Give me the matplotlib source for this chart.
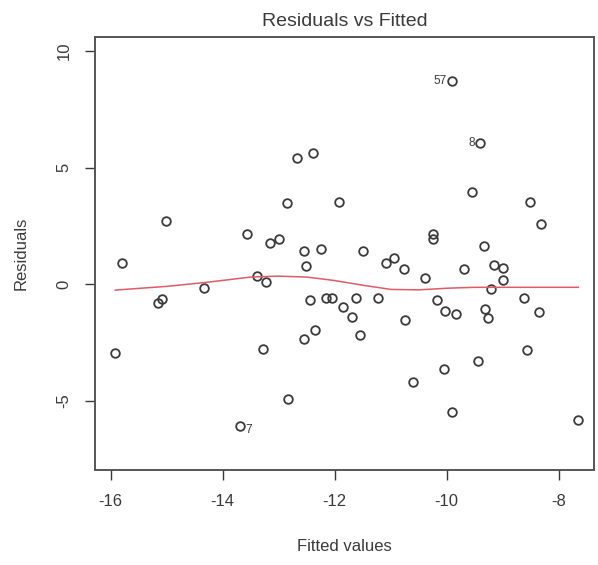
"""Residuals vs Fitted diagnostic plot (R plot.lm style)."""
import matplotlib

matplotlib.use("Agg")
import matplotlib.pyplot as plt

plt.rcParams["font.family"] = ["Liberation Sans", "DejaVu Sans"]

# fitted values / residuals
fitted = [
    -15.92, -15.80, -15.15, -15.09, -15.01, -14.33, -13.69, -13.57, -13.38, -13.28,
    -13.23, -13.16, -12.99, -12.86, -12.84, -12.68, -12.54, -12.51, -12.54, -12.44,
    -12.38, -12.36, -12.24, -12.16, -12.05, -11.92, -11.86, -11.69, -11.62, -11.55,
    -11.49, -11.22, -11.08, -10.94, -10.77, -10.74, -10.61, -10.38, -10.24, -10.24,
    -10.17, -10.05, -10.03, -9.91, -9.90, -9.83, -9.70, -9.54, -9.45, -9.40,
    -9.33, -9.32, -9.27, -9.21, -9.15, -9.00, -9.00, -8.62, -8.56, -8.51,
    -8.36, -8.32, -7.65,
]
residuals = [
    -2.95, 0.90, -0.83, -0.66, 2.70, -0.16, -6.09, 2.15, 0.34, -2.79,
    0.07, 1.75, 1.92, 3.46, -4.94, 5.42, 1.43, 0.77, -2.37, -0.69,
    5.61, -1.97, 1.50, -0.59, -0.59, 3.53, -1.00, -1.40, -0.62, -2.19,
    1.43, -0.59, 0.92, 1.10, 0.66, -1.55, -4.22, 0.24, 2.15, 1.92,
    -0.69, -3.66, -1.14, -5.48, 8.73, -1.29, 0.63, 3.96, -3.29, 6.04,
    1.63, -1.09, -1.47, -0.23, 0.82, 0.67, 0.17, -0.59, -2.83, 3.51,
    -1.22, 2.56, -5.84,
]

# smoother (red line)
smooth_x = [-15.92, -15.0, -14.3, -13.5, -13.0, -12.5, -12.0, -11.5, -11.0,
            -10.5, -10.0, -9.5, -9.0, -8.5, -7.65]
smooth_y = [-0.26, -0.10, 0.07, 0.30, 0.34, 0.30, 0.15, -0.05, -0.23,
            -0.25, -0.18, -0.14, -0.14, -0.14, -0.14]

# labelled observations: (index into arrays, label, side)
outliers = [(44, "57", "left"), (49, "8", "left"), (6, "7", "right")]

x_ticks = [-16, -14, -12, -10, -8]
y_ticks = [-5, 0, 5, 10]

ink = "#3a3a3a"

fig = plt.figure(figsize=(5.98, 5.65), dpi=100)
ax = fig.add_axes([0.1589, 0.1681, 0.8344, 0.7664])

ax.plot(fitted, residuals, linestyle="none", marker="o", markersize=6.2,
        markerfacecolor="none", markeredgecolor=ink, markeredgewidth=1.3)
ax.plot(smooth_x, smooth_y, color="#e05a68", linewidth=1.1)

for i, lab, side in outliers:
    if side == "left":
        ax.annotate(lab, (fitted[i], residuals[i]), xytext=(-4, 0),
                    textcoords="offset points", ha="right", va="center",
                    fontsize=8.5, color=ink)
    else:
        ax.annotate(lab, (fitted[i], residuals[i]), xytext=(4, -3),
                    textcoords="offset points", ha="left", va="center",
                    fontsize=8.5, color=ink)

ax.set_xlim(-16.28, -7.37)
ax.set_ylim(-7.98, 10.6)
ax.set_xticks(x_ticks)
ax.set_yticks(y_ticks)
ax.set_xticklabels([str(t) for t in x_ticks])
ax.set_yticklabels([str(t) for t in y_ticks], rotation=90, va="center")
ax.tick_params(direction="out", length=7, width=1, colors=ink,
               labelsize=12, pad=10)
for s in ax.spines.values():
    s.set_color("#555555")
    s.set_linewidth(1.4)

ax.set_title("Residuals vs Fitted", fontsize=14, color=ink, pad=8)
ax.set_xlabel("Fitted values", fontsize=12, color=ink, labelpad=22)
ax.set_ylabel("Residuals", fontsize=12, color=ink, labelpad=20)

fig.savefig("out.png", dpi=100)
